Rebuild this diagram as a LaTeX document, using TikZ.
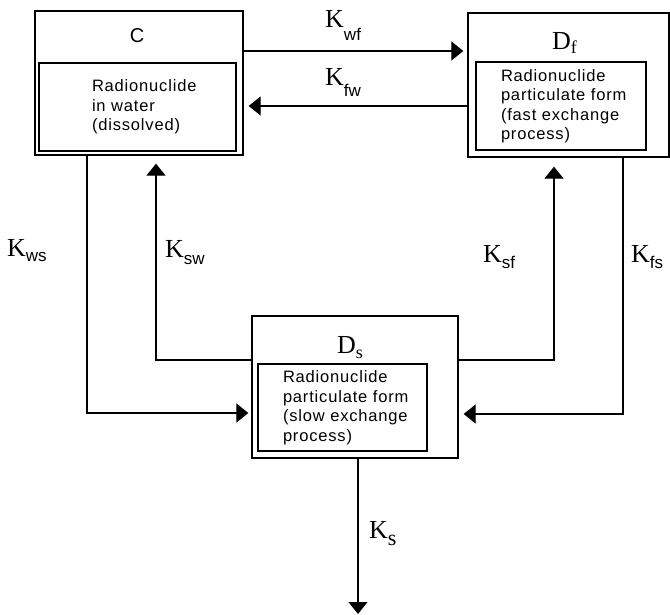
\documentclass[tikz,border=0pt]{standalone}
\usepackage{fontspec}
\setmainfont{Liberation Serif}
\newfontfamily\boxfont{Liberation Sans}[LetterSpace=5]
\newfontfamily\subfont{Liberation Sans}
\usetikzlibrary{arrows.meta, positioning}

% rate constant with a sans subscript: \krate{sub}{drop}
\newcommand{\krate}[2]{K\raisebox{-#2pt}{\fontsize{17}{17}\subfont #1}}
% compartment name with a serif subscript: \comp{main}{sub}{drop}
\newcommand{\comp}[3]{#1\raisebox{-#3pt}{\fontsize{18}{18}\selectfont #2}}

\begin{document}
\begin{tikzpicture}[x=1pt, y=-1pt,
    outer/.style = {draw, line width=1.3pt, inner sep=0pt},
    inner/.style = {draw, line width=1.2pt, inner sep=0pt, align=left,
                    font=\fontsize{16.5}{19.5}\boxfont},
    title/.style = {font=\fontsize{26}{26}\selectfont, anchor=base west, inner sep=0pt},
    flow/.style  = {line width=1.2pt, -{Triangle[length=12pt, width=19pt]}}]
    \useasboundingbox (0,0) rectangle (670,615);

    % compartments
    \node (Cbox)  [outer, minimum width=208pt, minimum height=144pt] at (139,83) {};
    \node (Cin)   [inner, minimum width=197pt, minimum height=88pt, text width=91pt] at (137.5,107)
        {\mbox{Radionuclide}\\\mbox{in water}\\\mbox{(dissolved)}};
    \node (Ctitle) [font=\fontsize{20}{20}\boxfont] at (137,36) {C};

    \node (Dfbox) [outer, minimum width=201pt, minimum height=144pt] at (568.5,85) {};
    \node (Dfin)  [inner, minimum width=170pt, minimum height=88pt, text width=120pt] at (561,106)
        {\mbox{Radionuclide}\\\mbox{particulate form}\\\mbox{(fast exchange}\\\mbox{process)}};
    \node (Dftitle) [title] at (552,50) {\comp{D}{f}{4}};

    \node (Dsbox) [outer, minimum width=206pt, minimum height=142pt] at (355,387) {};
    \node (Dsin)  [inner, minimum width=169pt, minimum height=87pt, text width=119pt] at (342.5,407.5)
        {\mbox{Radionuclide}\\\mbox{particulate form}\\\mbox{(slow exchange}\\\mbox{process)}};
    \node (Dstitle) [title] at (337,353) {\comp{D}{s}{5}};

    \coordinate (sink) at (358,614);

    % transfers
    \draw[flow, shorten >=4pt] (Cbox.east |- 0,51) -- (Dfbox.west |- 0,51);
    \draw[flow, shorten >=5pt] (Dfbox.west |- 0,106) -- (Cbox.east |- 0,106);
    \draw[flow, shorten >=3pt] (Cbox.south -| 87,0) |- (Dsbox.west |- 0,413);
    \draw[flow, shorten >=8pt] (Dsbox.west |- 0,360) -| (Cbox.south -| 156,0);
    \draw[flow, shorten >=9pt] (Dsbox.east |- 0,360) -| (Dfbox.south -| 554,0);
    \draw[flow, shorten >=5pt] (Dfbox.south -| 623,0) |- (Dsbox.east |- 0,414);
    \draw[flow] (Dsbox.south -| 358,0) -- (sink);

    % rate labels
    \node (Kwf) [title] at (325,28)  {\krate{wf}{13}};
    \node (Kfw) [title] at (325,86)  {\krate{fw}{11}};
    \node (Kws) [title] at (7,257)   {\krate{ws}{5}};
    \node (Ksw) [title] at (165,258) {\krate{sw}{6}};
    \node (Ksf) [title] at (483,262) {\krate{sf}{6}};
    \node (Kfs) [title] at (631,262) {\krate{fs}{6}};
    \node (Ks)  [title] at (369,538) {K\raisebox{-7pt}{\fontsize{22}{22}\selectfont s}};
\end{tikzpicture}
\end{document}
